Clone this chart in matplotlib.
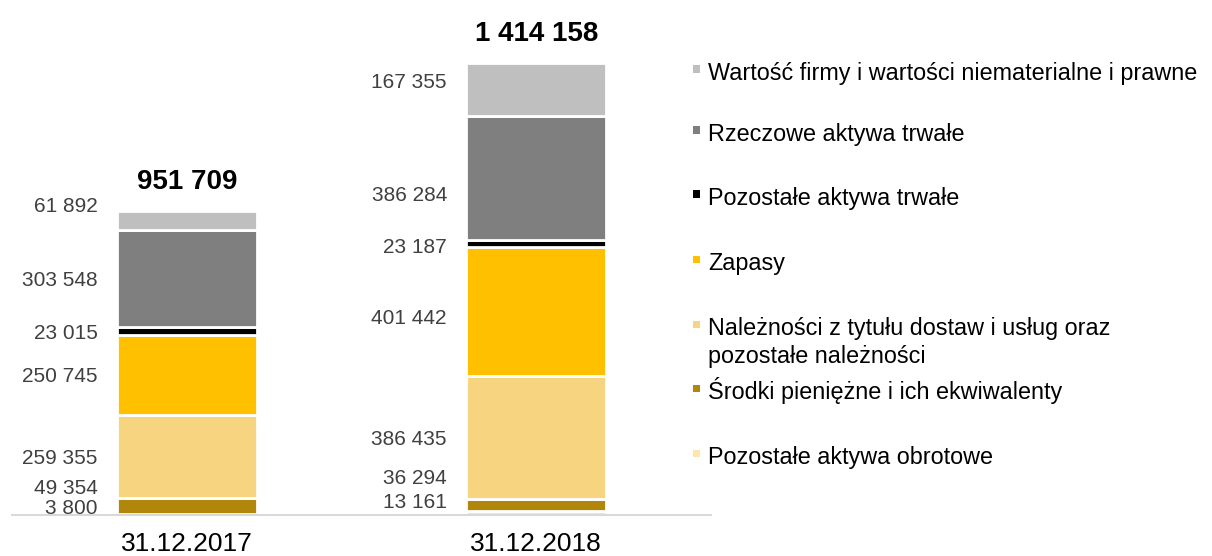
import matplotlib
matplotlib.use("Agg")
import matplotlib.pyplot as plt
from matplotlib.patches import Rectangle
import numpy as np

plt.rcParams['font.family'] = ['Liberation Sans', 'DejaVu Sans']

# ---------------- data ----------------
categories = ['31.12.2017', '31.12.2018']
series_labels = [
    'Pozostałe aktywa obrotowe',
    'Środki pieniężne i ich ekwiwalenty',
    'Należności z tytułu dostaw i usług oraz\npozostałe należności',
    'Zapasy',
    'Pozostałe aktywa trwałe',
    'Rzeczowe aktywa trwałe',
    'Wartość firmy i wartości niematerialne i prawne',
]
pozostale_obrotowe = [3800, 13161]
srodki_pieniezne = [49354, 36294]
naleznosci = [259355, 386435]
zapasy = [250745, 401442]
pozostale_trwale = [23015, 23187]
rzeczowe = [303548, 386284]
wartosc_firmy = [61892, 167355]
series_values = [pozostale_obrotowe, srodki_pieniezne, naleznosci, zapasy,
                 pozostale_trwale, rzeczowe, wartosc_firmy]

# ---------------- style ----------------
colors = ['#FDE6AE', '#B0860B', '#F7D580', '#FFC000', '#000000', '#7F7F7F', '#BFBFBF']
W, H, DPI = 1212, 556, 100
# manual label nudges in pixels (positive = up), keyed by (category idx, series idx)
label_nudge_px = {(0, 6): 16, (1, 0): 7, (1, 1): 9, (1, 3): -5, (1, 4): -2,
                  (1, 5): -16, (1, 6): 9}

def fmt(v):
    return f"{v:,}".replace(",", " ")

fig = plt.figure(figsize=(W / DPI, H / DPI), dpi=DPI)
ax = fig.add_axes([12 / W, 41 / H, 699 / W, 515 / H])
ax.set_xlim(-0.5, 1.5)
ax.set_ylim(0, 1_610_000)

x = np.arange(len(categories))
bw = 0.40
bottom = np.zeros(len(categories))
seg_centers = []
for vals, col, lab in zip(series_values, colors, series_labels):
    vals = np.array(vals, dtype=float)
    ax.bar(x, vals, bw, bottom=bottom, color=col, edgecolor='white',
           linewidth=2.0, label=lab, zorder=1)
    seg_centers.append(bottom + vals / 2)
    bottom = bottom + vals

# value labels with simple de-overlap (bottom to top)
units_per_px = 1_610_000 / 515
min_gap = 21 * units_per_px
floor = 8 * units_per_px
for j in range(len(categories)):
    prev = None
    for k, vals in enumerate(series_values):
        yc = seg_centers[k][j]
        if prev is None:
            y = max(yc, floor)
        else:
            y = max(yc, prev + min_gap)
        prev = y
        y_draw = y + label_nudge_px.get((j, k), 0) * units_per_px
        ax.annotate(fmt(vals[j]), xy=(x[j] - bw / 2, y_draw), xytext=(-14, 0),
                    textcoords='offset points', ha='right', va='center_baseline',
                    fontsize=15, color='#404040')
    ax.annotate(fmt(int(bottom[j])), xy=(x[j], bottom[j]), xytext=(0, 15.5),
                textcoords='offset points', ha='center', va='baseline',
                fontsize=20, fontweight='bold', color='black')

ax.set_xticks(x)
ax.set_xticklabels(categories, fontsize=19, color='black')
ax.tick_params(axis='x', length=0, pad=12)
ax.set_yticks([])
for s in ['top', 'right', 'left']:
    ax.spines[s].set_visible(False)
ax.spines['bottom'].set_color('#D9D9D9')
ax.spines['bottom'].set_linewidth(1.5)

# ---------------- legend (manual) ----------------
legend_baselines_px = [464, 399, 335, 270, 205, 141, 80]  # bottom-series first
line_step_px = 28
text_x_px = 708
for lab, col, base in zip(series_labels, colors, legend_baselines_px):
    mk_cy = base - 11
    fig.patches.append(Rectangle((693 / W, 1 - (mk_cy + 3.5) / H), 7.5 / W, 7 / H,
                                 transform=fig.transFigure, facecolor=col,
                                 edgecolor='none'))
    for li, line in enumerate(lab.split('\n')):
        fig.text(text_x_px / W, 1 - (base + li * line_step_px) / H, line,
                 fontsize=16.8, color='black', ha='left', va='baseline')

fig.savefig('out.png', dpi=DPI)
